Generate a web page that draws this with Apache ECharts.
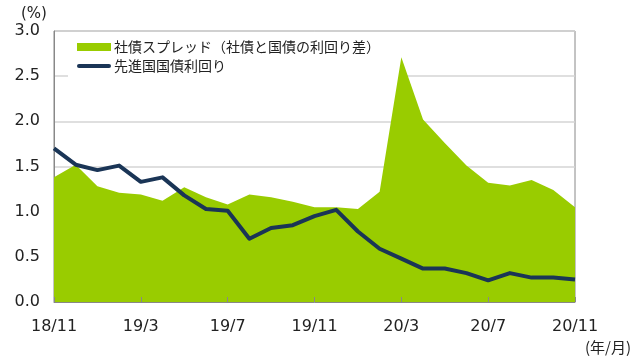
<!DOCTYPE html>
<html>
<head>
<meta charset="utf-8">
<script src="https://cdn.jsdelivr.net/npm/echarts@6/dist/echarts.min.js"></script>
<style>html,body{margin:0;padding:0;background:#fff}#c{width:640px;height:361px}</style>
</head>
<body>
<div id="c"></div>
<script>
var categories = ['18/11','18/12','19/1','19/2','19/3','19/4','19/5','19/6','19/7','19/8','19/9','19/10','19/11','19/12','20/1','20/2','20/3','20/4','20/5','20/6','20/7','20/8','20/9','20/10','20/11'];
var spreadName = '社債スプレッド（社債と国債の利回り差）';
var yieldName = '先進国国債利回り';
var spread = [1.38,1.52,1.28,1.21,1.19,1.12,1.27,1.16,1.08,1.19,1.16,1.11,1.05,1.05,1.03,1.22,2.71,2.02,1.76,1.51,1.32,1.29,1.35,1.24,1.05];
var yields = [1.70,1.52,1.46,1.51,1.33,1.38,1.18,1.03,1.01,0.70,0.82,0.85,0.95,1.02,0.78,0.59,0.48,0.37,0.37,0.32,0.24,0.32,0.27,0.27,0.25];
var yTicks = [0, 0.5, 1.0, 1.5, 2.0, 2.5, 3.0];

var cjk = '"Noto Sans CJK JP", "DejaVu Sans", sans-serif';
var num = '"DejaVu Sans", sans-serif';
var chart = echarts.init(document.getElementById('c'), null, {renderer:'canvas'});
chart.setOption({
  animation: false,
  backgroundColor: '#fff',
  grid: {left: 54, right: 65, top: 31, bottom: 59, show: true, borderColor: '#888', borderWidth: 1, containLabel: false},
  legend: {
    orient: 'vertical', left: 68, top: 35,
    padding: [5, 20, 5, 9],
    backgroundColor: '#fff',
    z: 1,
    itemWidth: 34, itemHeight: 8, itemGap: 5,
    textStyle: {fontFamily: cjk, fontSize: 14, color: '#222', padding: [0,0,0,-2]},
    data: [
      {name: spreadName, icon: 'rect'},
      {name: yieldName, icon: 'path://M2,0 L32,0 A2,2 0 0 1 32,4 L2,4 A2,2 0 0 1 2,0 Z'}
    ]
  },
  xAxis: {
    type: 'category', data: categories, boundaryGap: false,
    axisLine: {lineStyle: {color: '#888', width: 1}},
    axisTick: {inside: true, interval: 3, length: 5, lineStyle: {color: '#888'}},
    axisLabel: {interval: 3, fontFamily: num, fontSize: 16, color: '#222', margin: 17},
    splitLine: {show: false},
    z: 3
  },
  yAxis: {
    type: 'value', min: yTicks[0], max: yTicks[yTicks.length-1], interval: 0.5,
    axisLine: {show: true, lineStyle: {color: '#888'}},
    axisTick: {show: false},
    axisLabel: {fontFamily: num, fontSize: 16, color: '#222', margin: 14, formatter: function(v){return v.toFixed(1);}},
    splitLine: {lineStyle: {color: '#d4d4d4', width: 1.5}}
  },
  graphic: [
    {type: 'text', left: 21, top: 7, style: {text: '(%)', fontFamily: num, fontSize: 15, fill: '#222'}},
    {type: 'text', left: 585, top: 340, style: {text: '(年/月)', fontFamily: cjk, fontSize: 15, fill: '#222'}}
  ],
  series: [
    {
      name: spreadName, type: 'line', data: spread, symbol: 'none',
      lineStyle: {width: 0, color: '#99cc00'},
      itemStyle: {color: '#99cc00'},
      areaStyle: {color: '#99cc00', opacity: 1},
      z: 2
    },
    {
      name: yieldName, type: 'line', data: yields, symbol: 'none',
      lineStyle: {width: 4, color: '#1a3556', join: 'round'},
      itemStyle: {color: '#1a3556'},
      z: 3
    }
  ]
});
</script>
</body>
</html>
